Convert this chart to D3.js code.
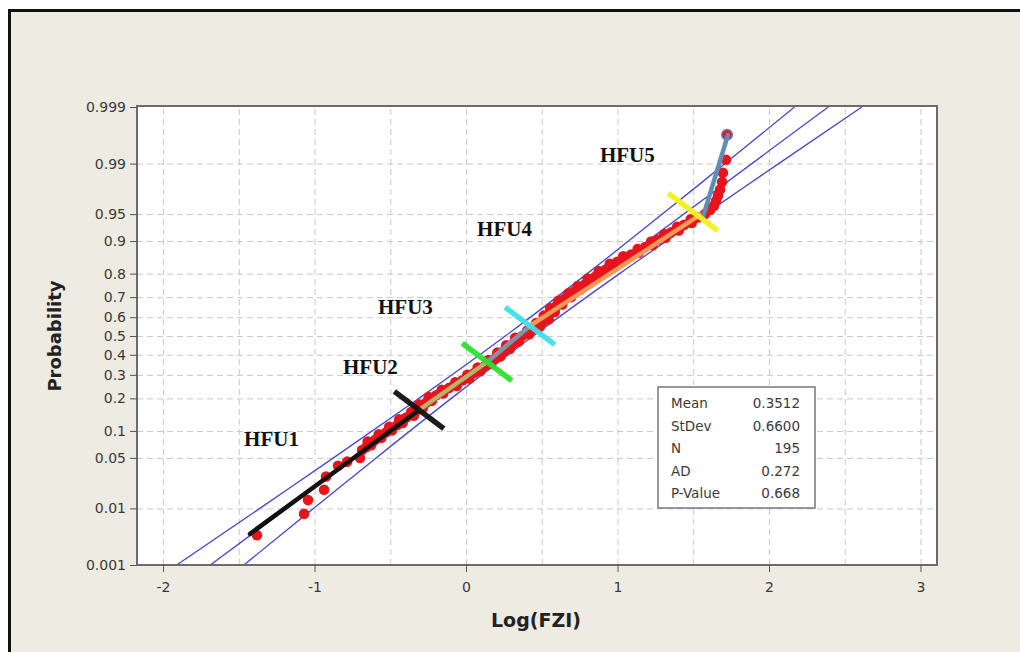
<!DOCTYPE html>
<html>
<head>
<meta charset="utf-8">
<script src="https://cdn.jsdelivr.net/npm/d3@7"></script>
<style>
  html, body { margin: 0; padding: 0; background: #fff; }
  svg { display: block; }
</style>
</head>
<body>
<div id="chart"></div>
<script>
// ---- values ----
const xTicks = [-2, -1, 0, 1, 2, 3];
const xTickLabels = ['-2', '-1', '0', '1', '2', '3'];
const xGrid = [-2, -1.5, -1, -0.5, 0, 0.5, 1, 1.5, 2, 2.5, 3];
const probTicks = [0.001, 0.01, 0.05, 0.1, 0.2, 0.3, 0.4, 0.5, 0.6, 0.7, 0.8, 0.9, 0.95, 0.99, 0.999];
const probTickLabels = ['0.001', '0.01', '0.05', '0.1', '0.2', '0.3', '0.4', '0.5', '0.6', '0.7', '0.8', '0.9', '0.95', '0.99', '0.999'];

// Log(FZI) sample values and their plotted probability
const logFzi = [
  // lower tail
  -1.380, -1.069, -1.043, -0.937, -0.924, -0.845, -0.785, -0.700, -0.686,
  // main band
  -0.659, -0.646, -0.599, -0.573, -0.527, -0.507, -0.454, -0.434, -0.395, -0.349,
  -0.322, -0.302, -0.263, -0.243, -0.197, -0.157, -0.111, -0.065, -0.025, 0.014,
  0.054, 0.081, 0.127, 0.153, 0.193, 0.213, 0.252, 0.272, 0.312, 0.331,
  0.371, 0.411, 0.450, 0.470, 0.510, 0.529, 0.549, 0.569, 0.595, 0.622,
  0.648, 0.688, 0.714, 0.740, 0.787, 0.806, 0.853, 0.879, 0.925, 0.952,
  0.998, 1.038, 1.090, 1.136, 1.183, 1.229, 1.268, 1.315, 1.354, 1.400,
  1.440, 1.486, 1.532,
  // main band, in-between points
  -0.626, -0.649, -0.559, -0.576, -0.490, -0.507, -0.418, -0.441, -0.345, -0.362,
  -0.286, -0.309, -0.226, -0.246, -0.150, -0.160, -0.061, -0.071, 0.021, 0.008,
  0.094, 0.077, 0.166, 0.147, 0.229, 0.206, 0.289, 0.265, 0.348, 0.325,
  0.417, 0.404, 0.487, 0.463, 0.546, 0.513, 0.586, 0.556, 0.635, 0.609,
  0.694, 0.675, 0.754, 0.737, 0.823, 0.803, 0.892, 0.876, 0.965, 0.949,
  1.044, 1.038, 1.140, 1.133, 1.232, 1.222, 1.318, 1.308, 1.404, 1.394,
  1.490, 1.483,
  // upper tail
  1.578, 1.611, 1.637, 1.650, 1.663, 1.677, 1.690, 1.696, 1.716, 1.723
];
const probability = [
  0.0036, 0.0082, 0.0134, 0.019, 0.029, 0.040, 0.045, 0.050, 0.062,
  0.0668, 0.0735, 0.0808, 0.0885, 0.0968, 0.1056, 0.1151, 0.1251, 0.1357, 0.1469,
  0.1587, 0.1711, 0.1841, 0.1977, 0.2119, 0.2266, 0.2420, 0.2578, 0.2743, 0.2912,
  0.3085, 0.3264, 0.3446, 0.3632, 0.3821, 0.4013, 0.4207, 0.4404, 0.4602, 0.4801,
  0.5000, 0.5199, 0.5398, 0.5596, 0.5793, 0.5987, 0.6179, 0.6368, 0.6554, 0.6736,
  0.6915, 0.7088, 0.7257, 0.7422, 0.7580, 0.7734, 0.7881, 0.8023, 0.8159, 0.8289,
  0.8413, 0.8531, 0.8643, 0.8749, 0.8849, 0.8944, 0.9032, 0.9115, 0.9192, 0.9265,
  0.9332, 0.9394, 0.9452,
  0.0701, 0.0771, 0.0846, 0.0926, 0.1011, 0.1103, 0.1200, 0.1303, 0.1412, 0.1527,
  0.1648, 0.1775, 0.1908, 0.2047, 0.2192, 0.2342, 0.2498, 0.2660, 0.2827, 0.2998,
  0.3174, 0.3354, 0.3538, 0.3726, 0.3917, 0.4110, 0.4305, 0.4503, 0.4701, 0.4900,
  0.5100, 0.5299, 0.5497, 0.5695, 0.5890, 0.6083, 0.6274, 0.6462, 0.6646, 0.6826,
  0.7002, 0.7173, 0.7340, 0.7502, 0.7658, 0.7808, 0.7953, 0.8092, 0.8225, 0.8352,
  0.8473, 0.8588, 0.8697, 0.8800, 0.8897, 0.8989, 0.9074, 0.9154, 0.9229, 0.9299,
  0.9364, 0.9424,
  0.9503, 0.9555, 0.9606, 0.9657, 0.9708, 0.9760, 0.9811, 0.9862, 0.9913, 0.9967
];

const statLabels = ['Mean', 'StDev', 'N', 'AD', 'P-Value'];
const statValues = ['0.3512', '0.6600', '195', '0.272', '0.668'];
const fitMean = 0.3512;
const fitStDev = 0.66;

// confidence band half width (in Log(FZI)) read at a few probabilities
const bandProb = [0.001, 0.01, 0.05, 0.2, 0.5, 0.8, 0.95, 0.99, 0.999];
const bandHalfWidth = [0.222, 0.177, 0.141, 0.107, 0.092, 0.107, 0.141, 0.177, 0.222];

// hydraulic flow unit segments
const hfuNames = ['HFU1', 'HFU2', 'HFU3', 'HFU4', 'HFU5'];
const hfuColors = ['#111111', '#b5b26c', '#7f93a6', '#f29a58', '#5f8db8'];
const hfuStartX = [-1.426, -0.310, 0.139, 0.422, 1.564];
const hfuStartP = [0.0038, 0.159, 0.363, 0.554, 0.9459];
const hfuEndX = [-0.310, 0.139, 0.422, 1.545, 1.729];
const hfuEndP = [0.159, 0.363, 0.554, 0.9488, 0.99667];
const labelX = [-1.465, -0.812, -0.581, 0.073, 0.884];
const labelP = [0.0689, 0.304, 0.617, 0.9115, 0.9906];

// boundary markers between units
const cutX = [-0.310, 0.139, 0.422, 1.498];
const cutP = [0.159, 0.363, 0.554, 0.9529];
const cutColors = ['#111111', '#2ee02e', '#3fe0ea', '#f2f21e'];

// ---- inverse normal cdf (Acklam) for the probability axis ----
function probit(p) {
  const a = [-3.969683028665376e+01, 2.209460984245205e+02, -2.759285104469687e+02, 1.383577518672690e+02, -3.066479806614716e+01, 2.506628277459239e+00];
  const b = [-5.447609879822406e+01, 1.615858368580409e+02, -1.556989798598866e+02, 6.680131188771972e+01, -1.328068155288572e+01];
  const c = [-7.784894002430293e-03, -3.223964580411365e-01, -2.400758277161838e+00, -2.549732539343734e+00, 4.374664141464968e+00, 2.938163982698783e+00];
  const d = [7.784695709041462e-03, 3.224671290700398e-01, 2.445134137142996e+00, 3.754408661907416e+00];
  const pl = 0.02425;
  let q, r;
  if (p < pl) {
    q = Math.sqrt(-2 * Math.log(p));
    return (((((c[0]*q + c[1])*q + c[2])*q + c[3])*q + c[4])*q + c[5]) / ((((d[0]*q + d[1])*q + d[2])*q + d[3])*q + 1);
  }
  if (p <= 1 - pl) {
    q = p - 0.5; r = q * q;
    return (((((a[0]*r + a[1])*r + a[2])*r + a[3])*r + a[4])*r + a[5])*q / (((((b[0]*r + b[1])*r + b[2])*r + b[3])*r + b[4])*r + 1);
  }
  q = Math.sqrt(-2 * Math.log(1 - p));
  return -(((((c[0]*q + c[1])*q + c[2])*q + c[3])*q + c[4])*q + c[5]) / ((((d[0]*q + d[1])*q + d[2])*q + d[3])*q + 1);
}

const W = 1020, H = 652;
const plot = { left: 137, top: 106, right: 937, bottom: 565 };

const svg = d3.select('#chart').append('svg')
  .attr('width', W).attr('height', H);

// window background with dark frame on top/left
svg.append('rect').attr('x', 0).attr('y', 0).attr('width', W).attr('height', H).attr('fill', '#ffffff');
svg.append('rect').attr('x', 9).attr('y', 10).attr('width', W).attr('height', H).attr('fill', '#eeebe2');
svg.append('path').attr('d', `M9.5,${H} V10.5 H${W}`)
  .attr('fill', 'none').attr('stroke', '#111').attr('stroke-width', 3);

const x = d3.scaleLinear().domain([-2.172, 3.109]).range([plot.left, plot.right]);
const z = d3.scaleLinear().domain([probit(0.001), probit(0.999)]).range([565, 107]);
const y = p => z(probit(p));

svg.append('rect')
  .attr('x', plot.left).attr('y', plot.top)
  .attr('width', plot.right - plot.left).attr('height', plot.bottom - plot.top)
  .attr('fill', '#ffffff');

svg.append('clipPath').attr('id', 'clip')
  .append('rect')
  .attr('x', plot.left).attr('y', plot.top)
  .attr('width', plot.right - plot.left).attr('height', plot.bottom - plot.top);

// gridlines
svg.append('g')
  .attr('transform', `translate(0,${plot.bottom})`)
  .call(d3.axisBottom(x).tickValues(xGrid).tickSize(-(plot.bottom - plot.top)).tickFormat(() => ''))
  .call(g => g.select('.domain').remove())
  .selectAll('line')
    .attr('stroke', '#c9c9c9').attr('stroke-dasharray', '6,4');

svg.append('g')
  .attr('transform', `translate(${plot.left},0)`)
  .call(d3.axisLeft(z).tickValues(probTicks.slice(1, -1).map(probit)).tickSize(-(plot.right - plot.left)).tickFormat(() => ''))
  .call(g => g.select('.domain').remove())
  .selectAll('line')
    .attr('stroke', '#c9c9c9').attr('stroke-dasharray', '6,4');

const inner = svg.append('g').attr('clip-path', 'url(#clip)');

// fitted line and confidence bands
const line = d3.line().x(d => x(d[0])).y(d => y(d[1]));
inner.append('path')
  .datum([0.001, 0.999].map(p => [fitMean + fitStDev * probit(p), p]))
  .attr('d', line)
  .attr('fill', 'none').attr('stroke', '#4646cc').attr('stroke-width', 1.3);

const bandLine = d3.line().x(d => x(d[0])).y(d => y(d[1])).curve(d3.curveNatural);
[-1, 1].forEach(side => {
  inner.append('path')
    .datum(bandProb.map((p, i) => [fitMean + fitStDev * probit(p) + side * bandHalfWidth[i], p]))
    .attr('d', bandLine)
    .attr('fill', 'none').attr('stroke', '#4646cc').attr('stroke-width', 1.3);
});

// data points
inner.selectAll('circle.pt')
  .data(logFzi.map((v, i) => [v, probability[i]]))
  .join('circle')
    .attr('class', 'pt')
    .attr('cx', d => x(d[0]))
    .attr('cy', d => y(d[1]))
    .attr('r', 5.3)
    .attr('fill', '#e8141c');

// last point has a blue rim
const last = logFzi.length - 1;
inner.append('circle')
  .attr('cx', x(logFzi[last])).attr('cy', y(probability[last]))
  .attr('r', 5.3).attr('fill', '#e8141c')
  .attr('stroke', '#6a7fc0').attr('stroke-width', 1.5);

// flow-unit segments
inner.selectAll('line.hfu')
  .data(hfuNames.map((n, i) => i))
  .join('line')
    .attr('class', 'hfu')
    .attr('x1', i => x(hfuStartX[i])).attr('y1', i => y(hfuStartP[i]))
    .attr('x2', i => x(hfuEndX[i])).attr('y2', i => y(hfuEndP[i]))
    .attr('stroke', i => hfuColors[i])
    .attr('stroke-width', 4.5)
    .attr('stroke-linecap', 'round');

// unit boundary markers
const half = 31, ang = 37 * Math.PI / 180;
inner.selectAll('line.cut')
  .data(cutX.map((v, i) => i))
  .join('line')
    .attr('class', 'cut')
    .attr('x1', i => x(cutX[i]) - half * Math.cos(ang)).attr('y1', i => y(cutP[i]) - half * Math.sin(ang))
    .attr('x2', i => x(cutX[i]) + half * Math.cos(ang)).attr('y2', i => y(cutP[i]) + half * Math.sin(ang))
    .attr('stroke', i => cutColors[i])
    .attr('stroke-width', 5.5)
    .attr('opacity', 0.95);

// unit labels
svg.selectAll('text.hfu')
  .data(hfuNames)
  .join('text')
    .attr('class', 'hfu')
    .attr('x', (d, i) => x(labelX[i]))
    .attr('y', (d, i) => y(labelP[i]))
    .text(d => d)
    .style('font-family', '"Liberation Serif", "Times New Roman", serif')
    .style('font-weight', 'bold')
    .style('font-size', '21px')
    .style('fill', '#111');

// frame
svg.append('rect')
  .attr('x', plot.left).attr('y', plot.top)
  .attr('width', plot.right - plot.left).attr('height', plot.bottom - plot.top)
  .attr('fill', 'none').attr('stroke', '#6b6b6b').attr('stroke-width', 2);

// axes
const xAxis = svg.append('g')
  .attr('transform', `translate(0,${plot.bottom})`)
  .call(d3.axisBottom(x).tickValues(xTicks).tickSize(7).tickPadding(10)
    .tickFormat((d, i) => xTickLabels[i]));
xAxis.select('.domain').remove();

const yAxis = svg.append('g')
  .attr('transform', `translate(${plot.left},0)`)
  .call(d3.axisLeft(z).tickValues(probTicks.map(probit)).tickSize(7).tickPadding(4)
    .tickFormat((d, i) => probTickLabels[i]));
yAxis.select('.domain').remove();

[xAxis, yAxis].forEach(g => {
  g.selectAll('line').attr('stroke', '#555');
  g.selectAll('text')
    .style('font-family', '"DejaVu Sans", Tahoma, sans-serif')
    .style('font-size', '14px')
    .style('fill', '#3a3a3a');
});

// axis titles
svg.append('text')
  .attr('x', 536).attr('y', 627)
  .attr('text-anchor', 'middle')
  .text('Log(FZI)')
  .style('font-family', '"DejaVu Sans", Tahoma, sans-serif')
  .style('font-weight', 'bold').style('font-size', '19px').style('fill', '#222');

svg.append('text')
  .attr('transform', 'translate(61,336) rotate(-90)')
  .attr('text-anchor', 'middle')
  .text('Probability')
  .style('font-family', '"DejaVu Sans", Tahoma, sans-serif')
  .style('font-weight', 'bold').style('font-size', '18px').style('fill', '#222');

// statistics box
const box = svg.append('g').attr('transform', 'translate(658,387)');
box.append('rect')
  .attr('width', 157).attr('height', 121)
  .attr('fill', '#ffffff').attr('stroke', '#777').attr('stroke-width', 1.5);
box.selectAll('text.lab')
  .data(statLabels)
  .join('text')
    .attr('class', 'lab')
    .attr('x', 13).attr('y', (d, i) => 21 + i * 22.6)
    .text(d => d);
box.selectAll('text.val')
  .data(statValues)
  .join('text')
    .attr('class', 'val')
    .attr('x', 142).attr('y', (d, i) => 21 + i * 22.6)
    .attr('text-anchor', 'end')
    .text(d => d);
box.selectAll('text')
  .style('font-family', '"DejaVu Sans", Tahoma, sans-serif')
  .style('font-size', '13.5px')
  .style('fill', '#3a3a3a');
</script>
</body>
</html>
